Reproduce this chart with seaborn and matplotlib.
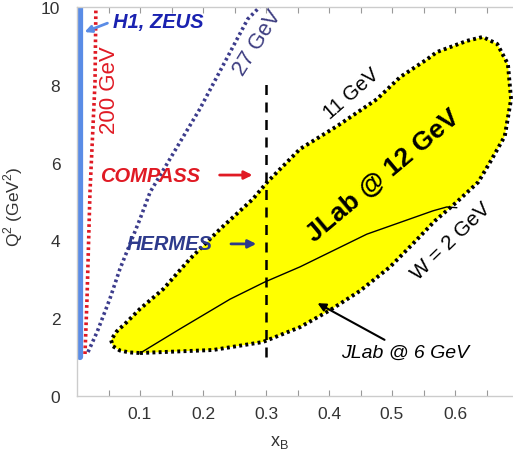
import numpy as np
import pandas as pd
import matplotlib
matplotlib.use("Agg")
import matplotlib.pyplot as plt
import seaborn as sns

# ---- data ----
x_ticks = [0.1, 0.2, 0.3, 0.4, 0.5, 0.6]
y_ticks = [0, 2, 4, 6, 8, 10]

hera_x = [0.004, 0.004]
hera_q2 = [1.0, 10.0]

compass_x = [0.0127, 0.0159, 0.0206, 0.0286, 0.030]
compass_q2 = [1.08, 2.5, 5.24, 8.07, 10.0]

hermes_x = [0.0175, 0.032, 0.052, 0.068, 0.100, 0.116, 0.195, 0.271, 0.290]
hermes_q2 = [1.13, 1.65, 2.49, 3.26, 4.55, 5.24, 7.38, 9.69, 10.0]

jlab12_x = [0.100, 0.216, 0.295, 0.354, 0.402, 0.449, 0.497, 0.533, 0.568, 0.603,
            0.637, 0.656, 0.679, 0.689, 0.684, 0.667, 0.644, 0.619, 0.571, 0.556,
            0.513, 0.476, 0.413, 0.354, 0.302, 0.279, 0.227, 0.179, 0.137, 0.100,
            0.079, 0.063, 0.054, 0.057, 0.068, 0.083, 0.100]
jlab12_q2 = [1.105, 1.183, 1.388, 1.77, 2.21, 2.70, 3.32, 3.91, 4.50, 4.99,
             5.50, 6.02, 6.68, 7.63, 8.53, 9.05, 9.23, 9.13, 8.84, 8.66,
             8.20, 7.63, 6.94, 6.35, 5.50, 5.06, 4.29, 3.52, 2.75, 2.24,
             1.90, 1.66, 1.44, 1.28, 1.17, 1.12, 1.105]

w2_x = [0.100, 0.163, 0.243, 0.298, 0.354, 0.460, 0.565, 0.587, 0.603]
w2_q2 = [1.10, 1.72, 2.49, 2.93, 3.32, 4.16, 4.76, 4.86, 4.84]

cut_x = [0.3, 0.3]
cut_q2 = [1.0, 8.2]

# ---- figure ----
sns.set_theme(style="white")
plt.rcParams['font.family'] = ['Liberation Sans', 'DejaVu Sans']

fig = plt.figure(figsize=(5.13, 4.52), dpi=100)
ax = fig.add_axes([77 / 513, 55 / 452, 441 / 513, 389 / 452])

dot = (0, (0.75, 0.85))

# JLab 12 GeV region
ax.fill(jlab12_x, jlab12_q2, color="#ffff00", zorder=1, lw=0)
sns.lineplot(x=jlab12_x, y=jlab12_q2, sort=False, estimator=None, ax=ax,
             color="black", lw=2.8, linestyle=dot, zorder=3)

# W = 2 GeV line
sns.lineplot(x=w2_x, y=w2_q2, sort=False, estimator=None, ax=ax,
             color="black", lw=1.0, zorder=4)

# x = 0.3 dashed
sns.lineplot(x=cut_x, y=cut_q2, sort=False, estimator=None, ax=ax,
             color="black", lw=1.8, linestyle=(0, (4, 3)), zorder=4)

# HERA
sns.lineplot(x=hera_x, y=hera_q2, sort=False, estimator=None, ax=ax,
             color="#5a8ce6", lw=4.5, zorder=2)
# COMPASS 200 GeV
sns.lineplot(x=compass_x, y=compass_q2, sort=False, estimator=None, ax=ax,
             color="#e01a24", lw=2.6, linestyle=dot, zorder=2)
# HERMES 27 GeV
sns.lineplot(x=hermes_x, y=hermes_q2, sort=False, estimator=None, ax=ax,
             color="#3c3c8c", lw=2.6, linestyle=dot, zorder=2)

# ---- texts ----
ax.text(0.0571, 9.64, "H1, ZEUS", color="#1a22b0", fontsize=14.5,
        fontweight="bold", fontstyle="italic", ha="left", va="center")
ax.annotate("", xy=(0.0079, 9.33), xytext=(0.0524, 9.61),
            arrowprops=dict(arrowstyle="-|>", color="#5a8ce6", lw=2,
                            mutation_scale=10))
ax.text(0.052, 7.89, "200 GeV", color="#e01a24", fontsize=16,
        rotation=90, ha="center", va="center")
ax.text(0.287, 9.10, "27 GeV", color="#3c3c80", fontsize=15.5,
        rotation=58, ha="center", va="center")
ax.text(0.0365, 5.68, "COMPASS", color="#e01a24", fontsize=14.5,
        fontweight="bold", fontstyle="italic", ha="left", va="center")
ax.annotate("", xy=(0.283, 5.68), xytext=(0.222, 5.68),
            arrowprops=dict(arrowstyle="-|>", color="#e01a24", lw=2,
                            mutation_scale=12))
ax.text(0.079, 3.91, "HERMES", color="#2d3a8c", fontsize=14.5,
        fontweight="bold", fontstyle="italic", ha="left", va="center")
ax.annotate("", xy=(0.289, 3.91), xytext=(0.240, 3.91),
            arrowprops=dict(arrowstyle="-|>", color="#2d3a8c", lw=2,
                            mutation_scale=12))
ax.text(0.435, 7.78, "11 GeV", color="black", fontsize=14.5,
        rotation=41, ha="center", va="center")
ax.text(0.486, 5.68, "JLab @ 12 GeV", color="black", fontsize=19,
        fontweight="bold", rotation=40, ha="center", va="center", zorder=5)
ax.text(0.593, 4.00, "W = 2 GeV", color="black", fontsize=15,
        rotation=44, ha="center", va="center")
ax.text(0.521, 1.13, "JLab @ 6 GeV", color="black", fontsize=14,
        fontstyle="italic", ha="center", va="center")
ax.annotate("", xy=(0.378, 2.42), xytext=(0.492, 1.41),
            arrowprops=dict(arrowstyle="-|>", color="black", lw=1.5,
                            mutation_scale=12), zorder=5)

# ---- axes ----
ax.set_xlim(0, 0.7)
ax.set_ylim(0, 10)
ax.set_xticks(x_ticks)
ax.set_xticklabels([f"{v:.1f}" for v in x_ticks])
ax.set_xticks(np.arange(0.05, 0.7, 0.1), minor=True)
ax.set_yticks(y_ticks)
ax.set_yticklabels([str(v) for v in y_ticks])
ax.tick_params(axis="x", which="both", direction="in", length=4, width=0.8,
               color="#999999", top=True, bottom=True, labelsize=12.5,
               labelcolor="#333333", pad=7)
ax.tick_params(axis="y", which="both", length=0, labelsize=12.5,
               labelcolor="#333333", pad=12)
for s in ["left", "bottom", "top", "right"]:
    ax.spines[s].set_color("#cccccc")
    ax.spines[s].set_linewidth(1.0)

ax.set_xlabel("x$_\\mathregular{B}$", fontsize=13, color="#333333", labelpad=2)
ax.set_ylabel("Q$^\\mathregular{2}$ (GeV$^\\mathregular{2}$)", fontsize=12.5,
              color="#333333", labelpad=8)
ax.yaxis.set_label_coords(-0.118, 0.49)
ax.xaxis.set_label_coords(0.46, -0.095)

fig.savefig("out.png", dpi=100)
